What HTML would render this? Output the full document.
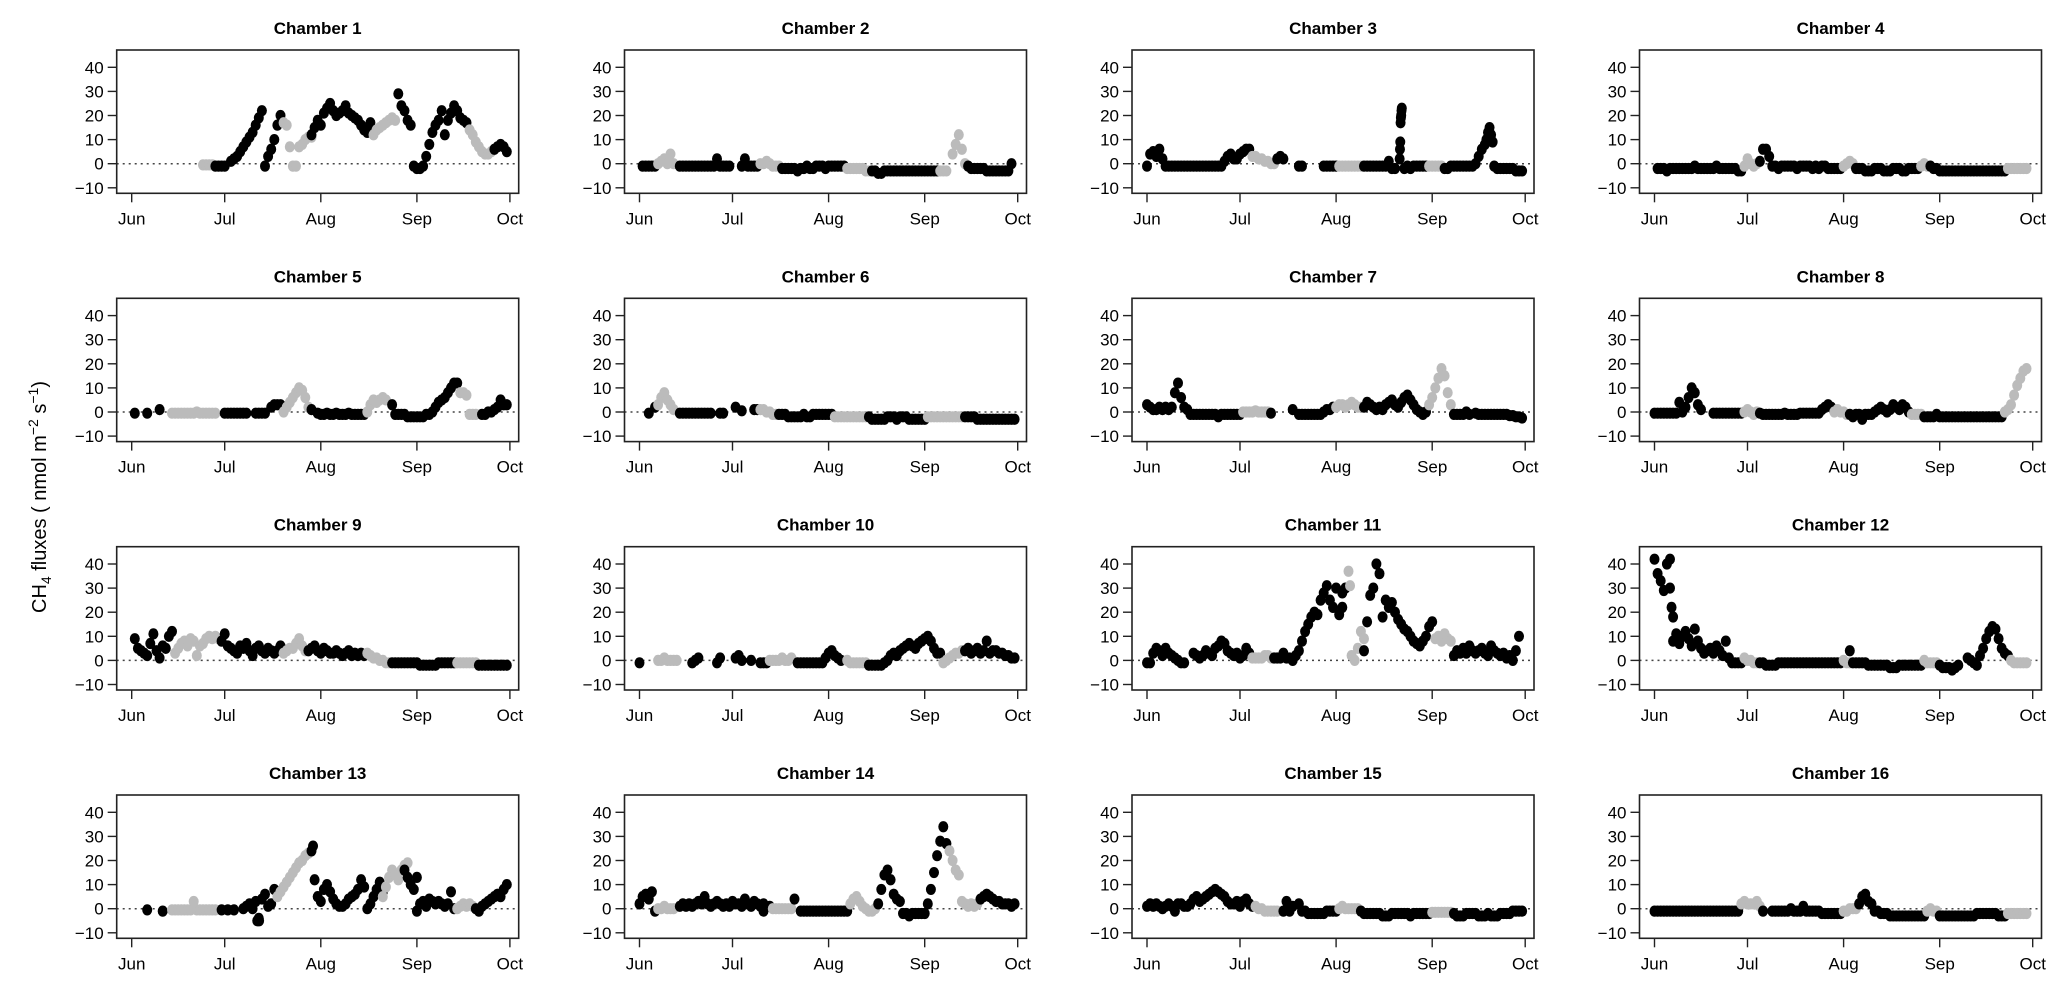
<!DOCTYPE html>
<html><head><meta charset="utf-8"><style>
html,body{margin:0;padding:0;background:#fff;}
svg{display:block;font-family:"Liberation Sans",Arial,sans-serif;}
</style></head><body>
<svg id="chart" width="2067" height="994" viewBox="0 0 2067 994" xmlns="http://www.w3.org/2000/svg">
<text transform="translate(46,497) rotate(-90)" text-anchor="middle" font-size="20">CH<tspan font-size="14" dy="5">4</tspan><tspan dy="-5"> fluxes ( nmol m</tspan><tspan font-size="14" dy="-8">−2</tspan><tspan dy="8"> s</tspan><tspan font-size="14" dy="-8">−1</tspan><tspan dy="8">)</tspan></text>
</svg>
<script>
// Tick labels and months (day offset from Jun 1)
const monthLabels = ["Jun","Jul","Aug","Sep","Oct"];
const monthDays = [0,30,61,92,122];
const yTicks = [-10,0,10,20,30,40];
const chamberNames = ["Chamber  1","Chamber  2","Chamber  3","Chamber  4","Chamber  5","Chamber  6","Chamber  7","Chamber  8","Chamber  9","Chamber  10","Chamber  11","Chamber  12","Chamber  13","Chamber  14","Chamber  15","Chamber  16"];
// segments: [startDay, stepDays, black(1)/gray(0), values]
const ch1 = [[23,1,0,[-0.5,-0.5,-0.5,-0.5]],[27,1,1,[-1,-1,-1,-1]],[32,1,1,[1,2,3,5,7,9,11,13,16,19,22]],[43,1,1,[-1,3,6,10,16,20]],[49,1,0,[17,16,7,-1,-1]],[54,1,0,[7,8,10,11,11]],[58,1,1,[12,15,18,16]],[62,1,1,[21,23,25,22,20,21,22,24,21,20,19,18,16,14,13,17,13]],[78,1,0,[12,14,15,16,17,18,19,18]],[86,1,1,[29,24,22,18,16]],[91,1,1,[-1,-2,-2,-1]],[95,1,1,[3,8,13,16,18,22,12]],[102,1,1,[18,21,24,22,19,18,17]],[109,1,0,[14,12,9,7,5,4,4,5]],[117,1,1,[6,7,8,7,5]]];
const ch2 = [[1,1,1,[-1,-1,-1,-1,-1]],[6,1,0,[0,1,2,0,4,0]],[13,1,1,[-1,-1,-1,-1,-1,-1,-1,-1,-1,-1,-1,-1,2,-1,-1,-1,-1]],[33,1,1,[-1,2,-1,-1,-1,-1]],[39,1,0,[0,0,1,0,-1,-1,-1]],[46,1,1,[-2,-2,-2,-2,-2,-3,-2,-2,-1,-2,-2,-1,-1,-1,-2,-1,-1,-1,-1,-1,-1]],[67,1,0,[-2,-2,-2,-2,-2,-2,-3,-3]],[75,1,1,[-3,-3,-4,-4,-3,-3,-3,-3,-3,-3,-3,-3,-3,-3,-3,-3,-3,-3,-3,-3,-3,-3]],[97,1,0,[-3,-3,-3]],[101,1,0,[4,8,12,6,0]],[106,1,1,[-1,-2,-2,-2,-2,-2,-3,-3,-3,-3,-3,-3,-3,-3,0]]];
const ch3 = [[0,1,1,[-1,4,5,3,6,2]],[6,1,1,[-1,-1,-1,-1,-1,-1,-1,-1,-1,-1,-1,-1,-1,-1,-1,-1,-1,-1,-1]],[25,1,1,[1,3,4,2,2,4,5,6,6]],[34,1,0,[3,3,2,2,1,1,0,0]],[42,1,1,[2,3,2]],[49,1,1,[-1,-1]],[57,1,1,[-1,-1,-1,-1,-1]],[62,1,0,[-1,-1,-1,-1,-1,-1,-1,-1]],[70,1,1,[-1,-1,-1,-1,-1,-1,-1,-1,1]],[79,1,1,[-2,-2]],[81.5,0.1,1,[2,6,9,17,19,20,22,23]],[83,1,1,[-2,-1,-2,-1,-1,-1,-1,-1]],[91,1,0,[-1,-1,-1,-1,-1]],[96,1,1,[-2,-2,-1,-1,-1,-1,-1,-1,-1,-1,0,3,6]],[109,0.5,1,[8,10,13,15,12,9]],[112,1,1,[-1,-2,-2,-2,-2,-2,-2,-3,-3,-3]]];
const ch4 = [[1,1,1,[-2,-2,-2,-3,-2,-2,-2,-2,-2,-2,-2,-2,-1,-2,-2,-2,-2,-2,-2,-1,-2,-2,-2,-2,-2,-2,-3,-3]],[29,1,0,[-1,2,0,-1,0]],[34,1,1,[1,6,6,3]],[38,1,1,[-1,-1,-2,-1,-1,-1,-1,-1,-2,-1,-1,-1,-1,-2,-1,-2,-1,-1,-2,-2,-2,-2,-2]],[61,1,0,[-1,0,1,0]],[65,1,1,[-2,-2,-2,-3,-3,-3,-2,-2,-2,-3,-3,-3,-2,-2,-2,-3,-3,-2,-2,-2,-2]],[86,1,0,[-1,0,-1]],[89,1,1,[-1,-2,-2,-3,-3,-3,-3,-3,-3,-3,-3,-3,-3,-3,-3,-3,-3,-3,-3,-3,-3,-3,-3,-3,-3]],[114,1,0,[-2,-2,-2,-2,-2,-2,-2]]];
const ch5 = [[1,1,1,[-0.5]],[5,1,1,[-0.5]],[9,1,1,[1]],[13,1,0,[-0.5,-0.5,-0.5,-0.5,-0.5,-0.5,-0.5,-0.5,0,-0.5,-0.5,-0.5,-0.5,-0.5,-0.5]],[30,1,1,[-0.5,-0.5,-0.5,-0.5,-0.5,-0.5,-0.5,-0.5]],[40,1,1,[-0.5,-0.5,-0.5,-0.5]],[45,1,1,[2,3,3,3,2]],[49,1,0,[0,2,4,6,8,10,9,6,2]],[58,1,1,[1]],[60,1,1,[-0.5,-1,-1,-0.5,-1,-1,-0.5,-1,-1,-1,-0.5,-1,-1,-1,-1,-1]],[76,1,0,[0,3,5,4,5,6,5]],[84,1,1,[3]],[85,1,1,[-1,-1,-1,-1,-2,-2,-2,-2,-2,-2,-1,-1,0]],[98,1,1,[2,4,5,6,8,10,12,12]],[106,1,0,[8,8,7]],[109,1,0,[-1,-1,-1]],[113,1,1,[-1,-1,0,0,1,2,5,3,3]]];
const ch6 = [[3,1,1,[-0.5]],[5,1,1,[2]],[6,1,0,[3,6,8,5,3,1]],[13,1,1,[-0.5,-0.5,-0.5,-0.5,-0.5,-0.5,-0.5,-0.5,-0.5,-0.5,-0.5]],[26,1,1,[-0.5,-0.5]],[31,1,1,[2]],[33,1,1,[0.5]],[37,1,1,[1,1]],[39,1,0,[1,1,0,0,-1,-1]],[45,1,1,[-1,-1,-1,-2,-2,-2,-2,-2,-1,-2,-2,-1,-1,-1,-1,-1,-1,-1]],[63,1,0,[-2,-2,-2,-2,-2,-2,-2,-2,-2,-2,-2]],[74,1,1,[-2,-3,-3,-3,-3,-3,-2,-2,-2,-3,-2,-2,-2,-3,-3,-3,-3,-3,-3]],[93,1,0,[-2,-2,-2,-2,-2,-2,-2,-2,-2,-2,-2,-2]],[105,1,1,[-2,-2,-2,-2,-3,-3,-3,-3,-3,-3,-3,-3,-3,-3,-3,-3,-3]]];
const ch7 = [[0,1,1,[3,2,1,1,2,1,2,1]],[8,1,1,[2,8,12,6,2,1]],[14,1,1,[-1,-1,-1,-1,-1,-1,-1,-1,-1,-2,-1,-1,-1,-1,-1,-1,-1]],[31,1,0,[0,0,0,0,0.5,0,0,0,0]],[40,1,1,[-0.5]],[47,1,1,[1]],[49,1,1,[-1,-1,-1,-1,-1,-1,-1,-1]],[57,1,1,[0,1,1,2]],[61,1,0,[2,3,3,2,3,4,3,2,2]],[70,1,1,[2,4,3,2,1,2,1,3,4,5,3,2,4,6,7,5,3,1]],[88,1,1,[0,-1,0]],[91,1,0,[3,6,10,14,18,15,8,3]],[99,1,1,[-1,-1,-1,-1,0,-1]],[106,1,1,[-0.5,-1,-1,-1,-1,-1,-1,-1,-1,-1,-1,-1.5,-1.5,-2,-2,-2.5]]];
const ch8 = [[0,1,1,[-0.5,-0.5,-0.5,-0.5,-0.5,-0.5,-0.5,-0.5,4]],[9,1,1,[0,2,6,10,8,3,1]],[19,1,1,[-0.5,-0.5,-0.5,-0.5,-0.5,-0.5,-0.5,-0.5,-0.5,-0.5]],[29,1,0,[0,1,0,-1,0]],[34,1,1,[-0.5,-1,-1,-1,-1,-1,-1,-1,-0.5,-1,-1,-1,-1,-0.5,-0.5,-0.5,-0.5,-0.5,-0.5,-0.5,1,2,3,2]],[58,1,0,[0,1,0,0,-1]],[63,1,1,[-1,-2,-1,-1,-3,-1,-1,-1,0,1,2,1,0,1,3,2,1,3,2,0]],[83,1,0,[-1,-1,-1,-1]],[87,1,1,[-2,-2,-2,-2,-1,-2,-2,-2,-2,-2,-2,-2,-2,-2,-2,-2,-2,-2,-2,-2,-2,-2,-2,-2,-2,-2]],[113,1,0,[0,1,3,7,11,14,17,18]]];
const ch9 = [[1,1,1,[9,5,4,3,2,7,11,4,1,6,5]],[12,1,1,[10,12]],[14,1,0,[3,5,7,8,6,9,8,2,6,7,9,10,9,10,9]],[29,1,1,[8,11,6,5,4,3,6,5,7,4,2,5,6,4,3,5,4,3,4,6]],[49,1,0,[3,4,5,5,7,9,6,4]],[57,1,1,[4,5,6,4,3,5,4,3,3,4,3,2,3,4,2,3,2,3,2]],[76,1,0,[3,2,1,1,0,0,-1,-1]],[84,1,1,[-1,-1,-1,-1,-1,-1,-1,-1,-1,-2,-2,-2,-2,-2,-2,-1,-1,-1,-1,-1,-1]],[105,1,0,[-1,-1,-1,-1,-1,-1,-1]],[112,1,1,[-2,-2,-2,-2,-2,-2,-2,-2,-2,-2]]];
const ch10 = [[0,1,1,[-1]],[6,1,0,[0,0,1,0,0,0,0]],[17,1,1,[-1,0,1]],[25,1,1,[-1,1]],[31,1,1,[1,2,0]],[36,1,1,[0]],[39,1,1,[-1,-1,-1]],[42,1,0,[0,0,0,0,1,0,0,1]],[51,1,1,[-1,-1,-1,-1,-1,-1,-1,-1,-1]],[60,1,1,[1,3,4,2,1,0]],[67,1,0,[0,-1,-1,-1,-1,-1,-1]],[74,1,1,[-2,-2,-2,-2,-2,-1,0,2,3,2,4,5,6,7,6,5,7,8,9,10,8,5,3,3]],[98,1,0,[-1,0,1,2,3,3,4]],[105,1,1,[4,5,3,4,5,3,4,8,3,4,4,3,3,2,2,1,1]]];
const ch11 = [[0,1,1,[-1,-1]],[2,1,1,[3,5,4,2,5,3,2,1]],[10,1,1,[0,-1,-1]],[15,1,1,[3,2,1,2,4,3,2]],[22,1,1,[5,6,8,7,4,3]],[28,1,1,[2,3,1,2,5,3]],[34,1,0,[1,1,1,1,2,2,1]],[41,1,1,[1,1,1,3,1,1,0]],[48,1,1,[2,4,8,12,15,18,20,19,25,28]],[58,1,1,[31,25,22,30,19,22]],[63,1,1,[28,30]],[65,0.5,0,[37,31]],[66,1,0,[2,0,5,12,9]],[70,1,1,[4,16,27,30,40,36]],[76,1,1,[18,25,22,24,20,17,15,13,12]],[85,1,1,[10,8,7,6,8,10,14,16]],[93,1,0,[9,10,8,11,9,8]],[99,1,1,[2,4,3,5,3,6,4,3,4,5,3,2,6,4,3,2,3,1,2,0,4,10]]];
const ch12 = [[0,1,1,[42,36,33,29,40,42]],[5,0.5,1,[30,22,18]],[6,1,1,[8,11,7,10,12,9,6]],[13,1,1,[13,8,5,3,4,5,3,6,4,2]],[23,1,1,[8,1,-1]],[26,1,1,[-1,-1,-1]],[29,1,0,[1,0,0,-1,-1]],[34,1,1,[-1,-1,-2,-2,-2,-2,-1,-1,-1,-1,-1,-1,-1,-1,-1,-1,-1,-1,-1,-1,-1,-1,-1,-1,-1,-1,-1]],[61,1,0,[0,-1,-1]],[63,1,1,[4,-1,-1,-1,-1,-1,-2,-2,-2,-2,-2,-2,-2,-3,-3,-3,-2,-2,-2,-2,-2,-2,-2,-2]],[87,1,0,[0,-1,-1,-1,-1]],[92,1,1,[-2,-3,-3,-3,-4,-3,-2]],[101,1,1,[1,0,-1,-2]],[105,1,1,[2,5,9,12,14,13,9,5,3,2]],[115,1,0,[0,-1,-1,-1,-1,-1]]];
const ch13 = [[5,1,1,[-0.5]],[10,1,1,[-1]],[13,1,0,[-0.5,-0.5,-0.5,-0.5,-0.5,-0.5,-0.5,3,-0.5,-0.5,-0.5,-0.5,-0.5,-0.5,-0.5]],[29,1,1,[-0.5]],[31,1,1,[-0.5]],[33,1,1,[-0.5]],[36,1,1,[0,1,2,0,3,-4,4,6,1,2,8]],[40.5,0.6,1,[-5,-5]],[47,1,0,[5,7,9,11,13,15,17,19,20,22,23]],[58,0.5,1,[24,26]],[59,1,1,[12,5,3,8,10,7,4,2]],[67,1,1,[1,1,2,4,5,6,8,12,9]],[76,1,1,[0,2,5,8,11,7]],[81,1,0,[5,9,13,16,14,12,16,18,19]],[88,1,1,[16,13,10,8,13]],[92,1,1,[-1,2,3,1,4,3,2,3,2,1,2,7]],[104,1,1,[0]],[105,1,0,[0,1,2,1,2,1]],[111,1,1,[0,-1,1,2,3,4,5,6,5,8,10]]];
const ch14 = [[0,1,1,[2,5,6,4,7]],[5,1,1,[-1]],[6,1,0,[0,0,1,0,0,0]],[13,1,1,[1,2,1,2,1,2,3,2,5,2,1,2,3,2,1,2,1,3,2,2,1,4,2,1,3,2,1,2]],[40,1,1,[-1]],[42,1,1,[1]],[43,1,0,[0,0,0,0,0,0,0]],[50,1,1,[4]],[52,1,1,[-1,-1,-1,-1,-1,-1,-1,-1,-1,-1,-1,-1,-1,-1,-1,-1]],[68,1,0,[2,4,5,3,1,0,-1,-1,0]],[77,1,1,[2,8,14,16,12,6,4,3]],[85,1,1,[-2,-2,-3,-2,-2,-2,-2,-2]],[93,1,1,[2,8,15,22,28,34,27]],[100,1,0,[24,20,16,14,3]],[105,1,0,[2,1,2,1,2]],[110,1,1,[4,5,6,5,4,3,3,2,2,2,1,2]]];
const ch15 = [[0,1,1,[1,2,1,2,1,0,1,2,1,-1,2,2,1,1,2,4,5,3,4,5,6,7,8,7,6,5,3,2,2,3,1]],[31,1,1,[3,4,2,1]],[35,1,0,[1,0,0,-1,-1,-1,-1,-1]],[44,1,1,[-1,3,-1,1]],[49,1,1,[2,-1,-1,-2,-2,-2,-2,-2,-2,-1,-1,-1,-1]],[62,1,0,[0,1,0,0,0,0,0]],[69,1,1,[-1,-2,-2,-2,-2,-2,-2,-3,-3,-3,-2,-2,-2,-2,-2,-2,-3,-2,-2,-2,-2,-2,-2]],[92,1,0,[-1.5,-1.5,-1.5,-1.5,-1.5,-1.5,-1.5]],[99,1,1,[-2,-3,-3,-3,-2,-2,-2,-2,-3,-3,-3,-2,-3,-3,-3,-2,-2,-2,-2,-1,-1,-1,-1]]];
const ch16 = [[0,1,1,[-1,-1,-1,-1,-1,-1,-1,-1,-1,-1,-1,-1,-1,-1,-1,-1,-1,-1,-1,-1,-1,-1,-1,-1,-1,-1,-1,-1]],[28,1,0,[2,3,2,2,2,3,1]],[35,1,1,[-1]],[38,1,1,[-1,-1,-1,-1,-1,-1,0,-1,-1,-1,1,-1,-1,-1,-1,-1,-2,-2,-2,-2,-2,-2,-2]],[61,1,0,[-1,-1,0,0,0]],[66,1,1,[2,5,6,3,2]],[71,1,1,[-1,-1,-2,-2,-2,-3,-3,-3,-3,-3,-3,-3,-3,-3,-3,-3,-3]],[88,1,0,[-1,0,-1,-1]],[92,1,1,[-3,-3,-3,-3,-3,-3,-3,-3,-3,-3,-3,-3,-2,-2,-2,-2,-2,-2,-2,-3,-3,-3]],[114,1,0,[-2,-2,-2,-2,-2,-2,-2]]];
const chambers = [ch1,ch2,ch3,ch4,ch5,ch6,ch7,ch8,ch9,ch10,ch11,ch12,ch13,ch14,ch15,ch16];

const NS = "http://www.w3.org/2000/svg";
const svg = document.getElementById("chart");
const colLeft = [116.7, 624.5, 1132, 1639.5];
const rowTop = [50, 298.3, 546.7, 795];
const W = 402, H = 143.3;
function mk(tag, attrs, parent){ const e=document.createElementNS(NS,tag); for(const k in attrs) e.setAttribute(k,attrs[k]); parent.appendChild(e); return e; }

chambers.forEach((segs, i) => {
  const L = colLeft[i%4], T = rowTop[Math.floor(i/4)];
  const xS = d => L + 15 + d*3.1;
  const yS = v => T + 113.7 - v*2.41;
  const g = mk("g", {}, svg);
  
  
  const title = mk("text", {x: L+W/2, y: T-16, "text-anchor":"middle", "font-size":"17", "font-weight":"bold"}, g);
  
  
  title.textContent = chamberNames[i];
  const zl = mk("line", {x1:L, x2:L+W, y1:yS(0), y2:yS(0), stroke:"#444", "stroke-width":"1.5", "stroke-dasharray":"2,4"}, g);
  
  
  segs.forEach(s => {
    s[3].forEach((v, k) => {
      const c = mk("ellipse", {cx: xS(s[0]+k*s[1]), cy: yS(v), rx: 5, ry: 5.6, fill: s[2] ? "#000" : "#bbbbbb"}, g);
      
      
    });
  });
  const box = mk("rect", {x:L, y:T, width:W, height:H, fill:"none", stroke:"#222", "stroke-width":"1.6"}, g);
  
  
  yTicks.forEach(t => {
    const ln = mk("line", {x1:L-9, x2:L, y1:yS(t), y2:yS(t), stroke:"#222", "stroke-width":"1.4"}, g);
    
    
    const tx = mk("text", {x:L-13, y:yS(t)+6, "text-anchor":"end", "font-size":"17"}, g);
    
    
    tx.textContent = t < 0 ? "−" + Math.abs(t) : String(t);
  });
  monthDays.forEach((d, k) => {
    const ln = mk("line", {x1:xS(d), x2:xS(d), y1:T+H, y2:T+H+9, stroke:"#222", "stroke-width":"1.4"}, g);
    
    
    const tx = mk("text", {x:xS(d), y:T+H+31, "text-anchor":"middle", "font-size":"17"}, g);
    
    
    tx.textContent = monthLabels[k];
  });
});
</script>
</body></html>
